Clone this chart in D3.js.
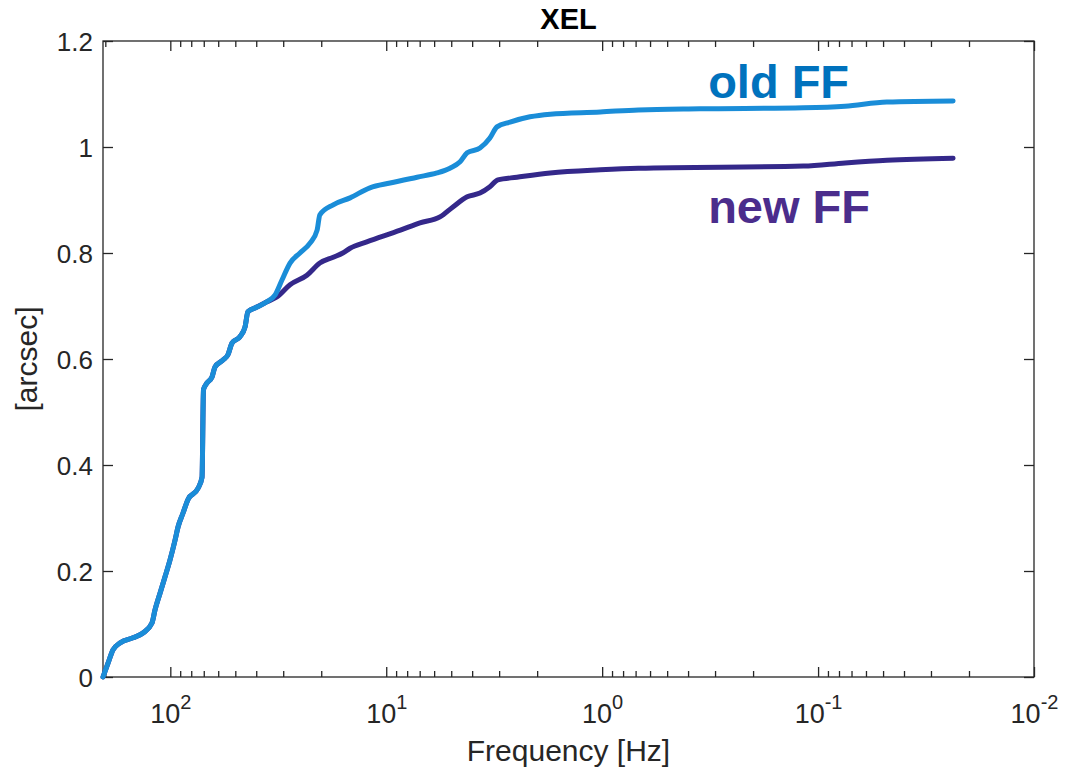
<!DOCTYPE html>
<html>
<head>
<meta charset="utf-8">
<script src="https://cdn.jsdelivr.net/npm/d3@7"></script>
<style>
  body { margin: 0; background: #fff; }
  svg { display: block; font-family: "Liberation Sans", Arial, Helvetica, sans-serif; }
  .tick line { stroke: #262626; stroke-width: 1.3; }
  .tick text { fill: #262626; }
</style>
</head>
<body>
<svg id="chart"></svg>
<script>
// frequency [Hz] and cumulative value [arcsec]
var oldFreq = [205, 194.3, 184.3, 171.1, 148.9, 133.8, 121.6, 117.8, 111.6, 105.8, 100.3, 95.1, 92.1, 87.4, 82.8,
  74.4, 71.3, 70.2, 67.6, 64.1, 62.1, 57.0, 54.1, 51.8, 47.6, 45.1, 43.7, 39.7, 35.7, 32.7,
  30.4, 27.9, 25.1, 22.5, 20.9, 20.3, 17.6, 14.7, 11.9, 9.6, 7.2, 5.82, 5.07, 4.55, 4.22,
  3.68, 3.31, 3.07, 2.67, 2.16, 1.74, 1.02, 0.68, 0.352, 0.117, 0.075, 0.048, 0.0237];
var oldVal = [0, 0.026, 0.051, 0.064, 0.074, 0.083, 0.102, 0.126, 0.158, 0.189, 0.221, 0.258, 0.283, 0.309, 0.335,
  0.356, 0.377, 0.542, 0.555, 0.566, 0.585, 0.598, 0.608, 0.630, 0.642, 0.660, 0.689, 0.698, 0.708, 0.721,
  0.749, 0.781, 0.800, 0.819, 0.843, 0.872, 0.891, 0.904, 0.923, 0.932, 0.943, 0.951, 0.960, 0.972, 0.989,
  0.998, 1.017, 1.038, 1.047, 1.057, 1.062, 1.066, 1.070, 1.072, 1.074, 1.077, 1.085, 1.087];

var newFreq = [205, 194.3, 184.3, 171.1, 148.9, 133.8, 121.6, 117.8, 111.6, 105.8, 100.3, 95.1, 92.1, 87.4, 82.8,
  74.4, 71.3, 70.2, 67.6, 64.1, 62.1, 57.0, 54.1, 51.8, 47.6, 45.1, 43.7, 39.7, 35.7, 32.1,
  27.9, 23.3, 20.3, 17.6, 15.9, 14.7, 12.3, 8.6, 6.98, 5.64, 4.91, 4.22, 3.68, 3.31, 3.04,
  2.48, 1.74, 1.02, 0.68, 0.117, 0.075, 0.048, 0.0237];
var newVal = [0, 0.026, 0.051, 0.064, 0.074, 0.083, 0.102, 0.126, 0.158, 0.189, 0.221, 0.258, 0.283, 0.309, 0.335,
  0.356, 0.377, 0.542, 0.555, 0.566, 0.585, 0.598, 0.608, 0.630, 0.642, 0.660, 0.689, 0.698, 0.708, 0.717,
  0.740, 0.758, 0.781, 0.792, 0.800, 0.809, 0.821, 0.843, 0.857, 0.868, 0.887, 0.906, 0.913, 0.925, 0.938,
  0.943, 0.951, 0.957, 0.960, 0.964, 0.970, 0.975, 0.979];

var majorTicks = [100, 10, 1, 0.1, 0.01];
var majorExp = ["2", "1", "0", "-1", "-2"];
var yTicks = [0, 0.2, 0.4, 0.6, 0.8, 1, 1.2];
var yTickLabels = ["0", "0.2", "0.4", "0.6", "0.8", "1", "1.2"];

var width = 1066, height = 769;
var margin = { top: 41, right: 32, bottom: 92, left: 103 };

var svg = d3.select("#chart").attr("width", width).attr("height", height);

var x = d3.scaleLog()
  .domain([205, 0.01])
  .range([margin.left, width - margin.right]);

var y = d3.scaleLinear()
  .domain([0, 1.2])
  .range([height - margin.bottom, margin.top]);

var minorTicks = x.ticks().filter(function(d) {
  return Math.abs(Math.log10(d) - Math.round(Math.log10(d))) > 1e-9;
});

// bottom axis: major + minor ticks pointing inward
var bottom = height - margin.bottom;
svg.append("g")
  .attr("transform", "translate(0," + bottom + ")")
  .call(d3.axisBottom(x).tickValues(minorTicks).tickSizeInner(-6).tickSizeOuter(0).tickFormat(""))
  .call(g => g.select(".domain").remove());
var xMajor = svg.append("g")
  .attr("transform", "translate(0," + bottom + ")")
  .call(d3.axisBottom(x).tickValues(majorTicks).tickSizeInner(-10).tickSizeOuter(0).tickFormat(""))
  .call(g => g.select(".domain").remove());

// top axis ticks
svg.append("g")
  .attr("transform", "translate(0," + margin.top + ")")
  .call(d3.axisTop(x).tickValues(minorTicks).tickSizeInner(-6).tickSizeOuter(0).tickFormat(""))
  .call(g => g.select(".domain").remove());
svg.append("g")
  .attr("transform", "translate(0," + margin.top + ")")
  .call(d3.axisTop(x).tickValues(majorTicks).tickSizeInner(-10).tickSizeOuter(0).tickFormat(""))
  .call(g => g.select(".domain").remove());

// exponent labels
xMajor.selectAll(".tick").each(function(d, i) {
  var t = d3.select(this).append("text")
    .attr("y", 46)
    .attr("text-anchor", "middle")
    .attr("font-size", 27)
    .attr("fill", "#262626");
  t.append("tspan").text("10");
  t.append("tspan").attr("dy", -14).attr("font-size", 20).text(majorExp[i]);
});

// y axes
svg.append("g")
  .attr("transform", "translate(" + margin.left + ",0)")
  .call(d3.axisLeft(y).tickValues(yTicks).tickSizeInner(-10).tickSizeOuter(0).tickPadding(10)
    .tickFormat((d, i) => yTickLabels[i]))
  .call(g => g.select(".domain").remove())
  .selectAll("text").attr("font-size", 26).attr("dy", "0.35em");
svg.append("g")
  .attr("transform", "translate(" + (width - margin.right) + ",0)")
  .call(d3.axisRight(y).tickValues(yTicks).tickSizeInner(-10).tickSizeOuter(0).tickFormat(""))
  .call(g => g.select(".domain").remove());

// box
svg.append("rect")
  .attr("x", margin.left)
  .attr("y", margin.top)
  .attr("width", width - margin.left - margin.right)
  .attr("height", height - margin.top - margin.bottom)
  .attr("fill", "none")
  .attr("stroke", "#262626")
  .attr("stroke-width", 1.3);

var line = d3.line()
  .x(d => x(d[0]))
  .y(d => y(d[1]))
  .curve(d3.curveMonotoneX);

svg.append("path")
  .datum(d3.zip(newFreq, newVal))
  .attr("d", line)
  .attr("fill", "none")
  .attr("stroke", "#34288a")
  .attr("stroke-width", 5)
  .attr("stroke-linecap", "round")
  .attr("stroke-linejoin", "round");

svg.append("path")
  .datum(d3.zip(oldFreq, oldVal))
  .attr("d", line)
  .attr("fill", "none")
  .attr("stroke", "#1a8dd8")
  .attr("stroke-width", 5)
  .attr("stroke-linecap", "round")
  .attr("stroke-linejoin", "round");

// annotations
svg.append("text")
  .attr("x", x(0.323))
  .attr("y", y(1.092))
  .attr("font-size", 47)
  .attr("font-weight", "bold")
  .attr("fill", "#0072bd")
  .text("old FF");
svg.append("text")
  .attr("x", x(0.323))
  .attr("y", y(0.857))
  .attr("font-size", 47)
  .attr("font-weight", "bold")
  .attr("fill", "#4b2d8c")
  .text("new FF");

// title and axis labels
svg.append("text")
  .attr("x", (margin.left + width - margin.right) / 2)
  .attr("y", 29)
  .attr("text-anchor", "middle")
  .attr("font-size", 29)
  .attr("font-weight", "bold")
  .attr("fill", "#000")
  .text("XEL");

svg.append("text")
  .attr("x", (margin.left + width - margin.right) / 2)
  .attr("y", 761)
  .attr("text-anchor", "middle")
  .attr("font-size", 30)
  .attr("fill", "#262626")
  .text("Frequency [Hz]");

svg.append("text")
  .attr("transform", "translate(37," + ((margin.top + height - margin.bottom) / 2) + ") rotate(-90)")
  .attr("text-anchor", "middle")
  .attr("font-size", 30)
  .attr("fill", "#262626")
  .text("[arcsec]");
</script>
</body>
</html>
